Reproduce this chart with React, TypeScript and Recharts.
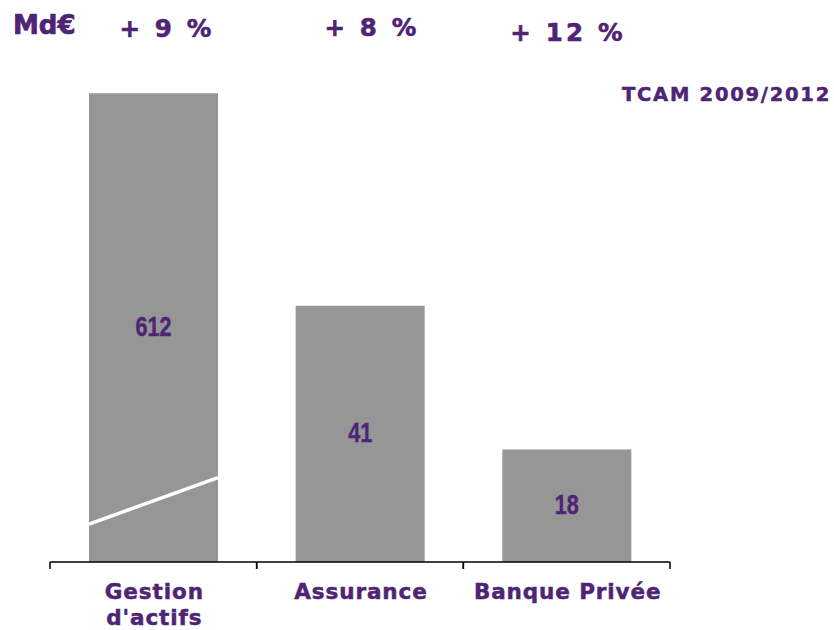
import React from 'react';
import { BarChart, Bar, XAxis, YAxis, LabelList, Customized } from 'recharts';

const categories = ['Gestion\nd\'actifs', 'Assurance', 'Banque Privée'];
const valueLabels = [612, 41, 18];
// bar heights as drawn (first bar is on a broken axis)
const drawnHeights = [75, 41, 18];
const brokenFlags = [true, false, false];
const growthLabels = ['+ 9 %', '+ 8 %', '+ 12 %'];
const unitLabel = 'Md€';
const periodLabel = 'TCAM 2009/2012';

const data = categories.map((c, i) => ({
  name: c,
  height: drawnHeights[i],
  label: valueLabels[i],
  broken: brokenFlags[i],
}));

const PURPLE = '#4E2474';
const GRAY = '#969696';
const FONT = '"DejaVu Sans", Verdana, sans-serif';

const BarShape = (props: any) => {
  const { x, y, width, height, payload } = props;
  return (
    <g>
      <rect x={x} y={y} width={width} height={height} fill={GRAY} />
      {payload.broken && (
        <line
          x1={x}
          y1={y + height - height * 0.081}
          x2={x + width}
          y2={y + height - height * 0.18}
          stroke="#fff"
          strokeWidth={3.5}
        />
      )}
    </g>
  );
};

const Tick = (props: any) => {
  const { x, y, payload } = props;
  const lines = String(payload.value).split('\n');
  const half = 206.67 / 2;
  return (
    <g>
      <line x1={x - half} y1={y - 8} x2={x - half} y2={y - 1} stroke="#000" strokeWidth={1.5} />
      <line x1={x + half} y1={y - 8} x2={x + half} y2={y - 1} stroke="#000" strokeWidth={1.5} />
      {lines.map((l, i) => (
        <text
          key={i}
          x={x + 1}
          y={y + 29 + i * 26}
          textAnchor="middle"
          fill={PURPLE}
          stroke={PURPLE}
          strokeWidth={0.5}
          fontFamily={FONT}
          fontWeight="bold"
          fontSize={21.5}
          letterSpacing={0.9}
        >
          {l}
        </text>
      ))}
    </g>
  );
};

const ValueLabel = (props: any) => {
  const { x, y, width, height, value } = props;
  const cx = x + width / 2;
  const cy = y + height / 2;
  return (
    <text
      transform={`translate(${cx},${cy + 8}) scale(0.8,1.05)`}
      textAnchor="middle"
      fill={PURPLE}
      stroke={PURPLE}
      strokeWidth={0.4}
      fontFamily='"Liberation Sans", Arial, sans-serif'
      fontWeight="bold"
      fontSize={27}
    >
      {value}
    </text>
  );
};

const growthPos = [
  { x: 167, y: 37 },
  { x: 372, y: 36 },
  { x: 568, y: 41 },
];

const Annotations = () => (
  <g>
    <text x={13} y={34} fill={PURPLE} stroke={PURPLE} strokeWidth={0.7} fontFamily={FONT} fontWeight="bold" fontSize={26}>
      {unitLabel}
    </text>
    {growthLabels.map((g, i) => (
      <text
        key={i}
        x={growthPos[i].x}
        y={growthPos[i].y}
        textAnchor="middle"
        fill={PURPLE}
        stroke={PURPLE}
        strokeWidth={0.6}
        fontFamily={FONT}
        fontWeight="bold"
        fontSize={24.5}
        letterSpacing={3.2}
      >
        {g}
      </text>
    ))}
    <text
      x={831}
      y={101}
      textAnchor="end"
      fill={PURPLE}
      stroke={PURPLE}
      strokeWidth={0.5}
      fontFamily={FONT}
      fontWeight="bold"
      fontSize={19.5}
      letterSpacing={1.75}
    >
      {periodLabel}
    </text>
  </g>
);

export default function App() {
  return (
    <div style={{ position: 'absolute', left: 0, top: 0, width: 834, height: 630, background: '#fff' }}>
      <BarChart
        width={834}
        height={630}
        data={data}
        margin={{ top: 62, right: 164, left: 50, bottom: 0 }}
        barSize={129}
      >
        <YAxis hide domain={[0, 80]} />
        <XAxis
          dataKey="name"
          height={68}
          axisLine={{ stroke: '#000', strokeWidth: 1.5 }}
          tickLine={false}
          tick={<Tick />}
          interval={0}
        />
        <Bar dataKey="height" shape={<BarShape />} isAnimationActive={false}>
          <LabelList dataKey="label" content={<ValueLabel />} />
        </Bar>
        <Customized component={Annotations} />
      </BarChart>
    </div>
  );
}
